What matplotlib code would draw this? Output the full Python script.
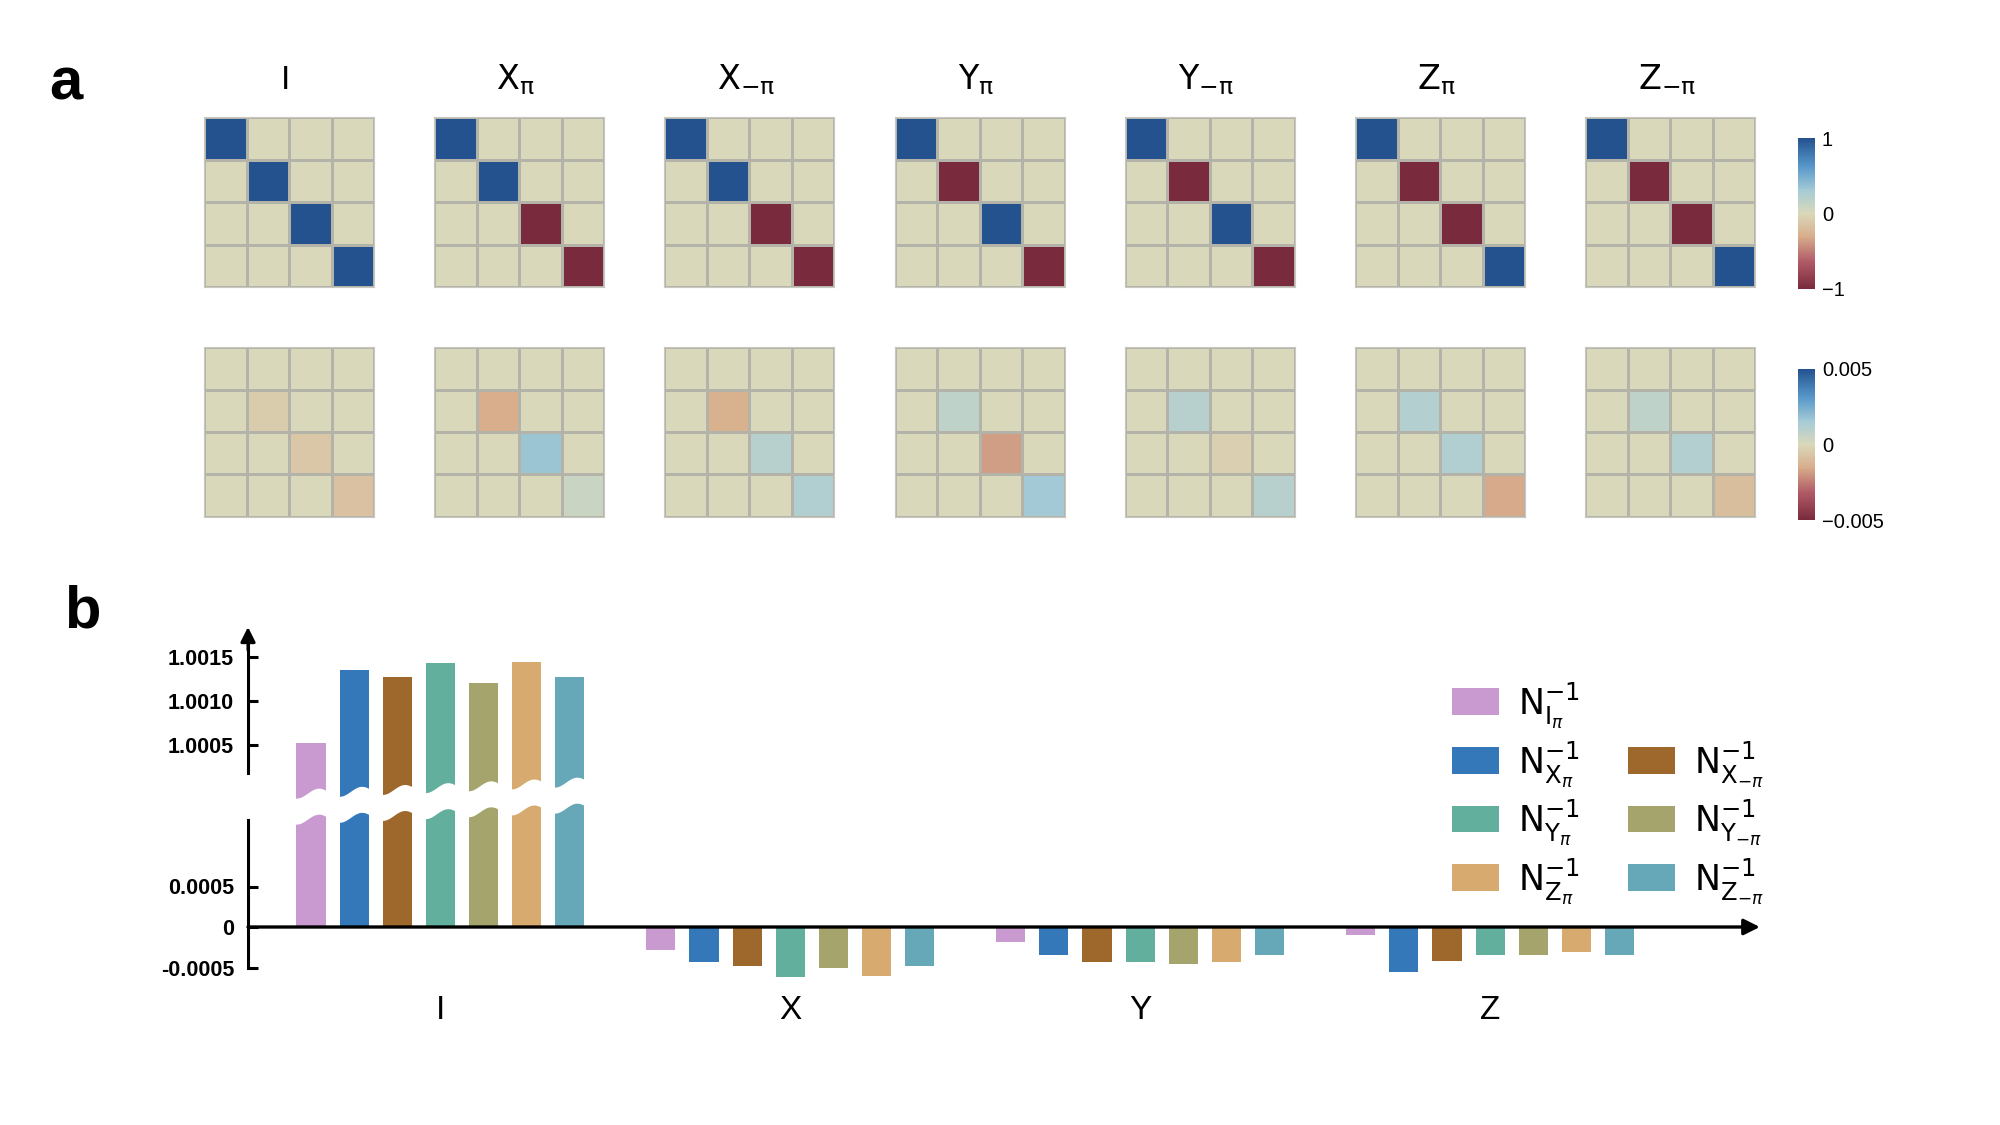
import numpy as np
import matplotlib
matplotlib.use("Agg")
import matplotlib.pyplot as plt
from matplotlib.colors import LinearSegmentedColormap, Normalize
from matplotlib.cm import ScalarMappable
from matplotlib.patches import Rectangle
import matplotlib.transforms as mtransforms

plt.rcParams['font.family'] = ['Liberation Sans', 'DejaVu Sans']
plt.rcParams['mathtext.fontset'] = 'dejavusans'

# ---------------- data ----------------
gate_titles = ['I', r'$\mathrm{X}_{\mathrm{\pi}}$', r'$\mathrm{X}_{-\mathrm{\pi}}$',
               r'$\mathrm{Y}_{\mathrm{\pi}}$', r'$\mathrm{Y}_{-\mathrm{\pi}}$',
               r'$\mathrm{Z}_{\mathrm{\pi}}$', r'$\mathrm{Z}_{-\mathrm{\pi}}$']
ideal_diag = [[1, 1, 1, 1],
              [1, 1, -1, -1],
              [1, 1, -1, -1],
              [1, -1, 1, -1],
              [1, -1, 1, -1],
              [1, -1, -1, 1],
              [1, -1, -1, 1]]
dev_diag = [[0, -0.0004, -0.0006, -0.0008],
            [0, -0.0015, 0.0017, 0.0005],
            [0, -0.0014, 0.0010, 0.0012],
            [0, 0.0008, -0.0018, 0.0016],
            [0, 0.0010, -0.0003, 0.0010],
            [0, 0.0011, 0.0012, -0.0016],
            [0, 0.0008, 0.0011, -0.0009]]

groups = ['I', 'X', 'Y', 'Z']
series_labels = [r'$\mathrm{N}_{\mathrm{I}_{\pi}}^{-1}$',
                 r'$\mathrm{N}_{\mathrm{X}_{\pi}}^{-1}$',
                 r'$\mathrm{N}_{\mathrm{X}_{-\pi}}^{-1}$',
                 r'$\mathrm{N}_{\mathrm{Y}_{\pi}}^{-1}$',
                 r'$\mathrm{N}_{\mathrm{Y}_{-\pi}}^{-1}$',
                 r'$\mathrm{N}_{\mathrm{Z}_{\pi}}^{-1}$',
                 r'$\mathrm{N}_{\mathrm{Z}_{-\pi}}^{-1}$']
series_colors = ['#C89AD0', '#3478BA', '#9E682C', '#62AF9E', '#A4A46C', '#D7AB70', '#67A8B8']
vals_I = [1.00052, 1.00135, 1.00127, 1.00143, 1.00121, 1.00144, 1.00127]
vals_X = [-0.00028, -0.00043, -0.00048, -0.00062, -0.00051, -0.00061, -0.00048]
vals_Y = [-0.00019, -0.00035, -0.00043, -0.00043, -0.00046, -0.00043, -0.00035]
vals_Z = [-0.00010, -0.00055, -0.00042, -0.00035, -0.00035, -0.00031, -0.00035]
upper_ticks = [1.0005, 1.0010, 1.0015]
upper_ticklabels = ['1.0005', '1.0010', '1.0015']
lower_ticks = [-0.0005, 0, 0.0005]
lower_ticklabels = ['-0.0005', '0', '0.0005']

# ---------------- figure ----------------
W, H = 2000, 1125
fig = plt.figure(figsize=(20, 11.25), dpi=100)


def add_ax(l, t, w, h):
    return fig.add_axes([l / W, 1 - (t + h) / H, w / W, h / H])


cmap = LinearSegmentedColormap.from_list('div', [
    (0.00, '#7A2A3D'), (0.18, '#B05A66'), (0.35, '#D8AE8C'), (0.50, '#DAD8BA'),
    (0.65, '#A6CCD6'), (0.82, '#5595C8'), (1.00, '#24528F')])
grid_c = '#B4B3AA'

for row, (diags, vmax) in enumerate([(ideal_diag, 1.0), (dev_diag, 0.005)]):
    top = 117 if row == 0 else 347
    norm = Normalize(-vmax, vmax)
    for i in range(7):
        ax = add_ax(204 + i * 230.2, top, 170, 170)
        M = np.diag(diags[i])
        ax.pcolormesh(M, cmap=cmap, norm=norm, edgecolors=grid_c, linewidth=0.8)
        ax.set_xlim(0, 4)
        ax.set_ylim(4, 0)
        ax.set_xticks([])
        ax.set_yticks([])
        for s in ax.spines.values():
            s.set_color('#C9C8C0')
            s.set_linewidth(0.8)
        if row == 0:
            ax.text(0.48, 1.165, gate_titles[i], transform=ax.transAxes,
                    ha='center', va='baseline', fontsize=24)
    cax = add_ax(1798, 138 if row == 0 else 369, 17, 151)
    cb = fig.colorbar(ScalarMappable(norm=norm, cmap=cmap), cax=cax)
    cb.outline.set_visible(False)
    cb.set_ticks([-vmax, 0, vmax])
    if row == 0:
        cb.set_ticklabels(['\u22121', '0', '1'])
    else:
        cb.set_ticklabels(['\u22120.005', '0', '0.005'])
    cax.tick_params(length=0, pad=5, labelsize=14.5)

fig.text(66 / W, 1 - 99 / H, 'a', fontsize=43, fontweight='bold', ha='center', va='baseline')
fig.text(82 / W, 1 - 628 / H, 'b', fontsize=43, fontweight='bold', ha='center', va='baseline')

# ---------------- panel b ----------------
vals = np.array([vals_I, vals_X, vals_Y, vals_Z])  # groups x series
gx = np.arange(len(groups))
spacing = 0.123
bw = 0.083
offsets = (np.arange(7) - 3) * spacing
xl, xr = -0.549, 3.80


def v_low(p):   # pixel row -> lower-axis value
    return (927 - p) * 0.001 / 81


def v_up(p):    # pixel row -> upper-axis value
    return 1.0015 - (p - 657) * 0.001 / 88


ax_up = add_ax(248, 625, 1522, 205)
ax_low = add_ax(248, 775, 1522, 225)
ax_up.set_zorder(2)
ax_low.set_zorder(3)
for ax in (ax_up, ax_low):
    ax.patch.set_visible(False)
    ax.set_xlim(xl, xr)
    for s in ('top', 'right', 'bottom'):
        ax.spines[s].set_visible(False)
    ax.spines['left'].set_linewidth(2.2)
    ax.set_xticks([])
    ax.tick_params(axis='y', direction='in', length=7, width=2.2, pad=10,
                   labelsize=15.5)

ax_up.set_ylim(v_up(830), v_up(625))
ax_low.set_ylim(v_low(1000), v_low(775))

handles = []
for k in range(7):
    b = ax_up.bar(gx + offsets[k], vals[:, k], width=bw, color=series_colors[k],
                  label=series_labels[k])
    ax_low.bar(gx + offsets[k], vals[:, k], width=bw, color=series_colors[k])
    handles.append(b)

ax_up.set_yticks(upper_ticks)
ax_up.set_yticklabels(upper_ticklabels, fontweight='bold', fontsize=15.5)
ax_low.set_yticks(lower_ticks)
ax_low.set_yticklabels(lower_ticklabels, fontweight='bold', fontsize=15.5)
ax_up.spines['left'].set_bounds(v_up(773), v_up(640))
ax_low.spines['left'].set_bounds(-0.0005, v_low(820))

# y arrow head
ax_up.annotate('', xy=(xl, v_up(627)), xytext=(xl, v_up(650)),
               arrowprops=dict(arrowstyle='-|>', color='k', lw=2.2,
                               mutation_scale=22, shrinkA=0, shrinkB=0),
               annotation_clip=False)
# x axis with arrow
ax_low.annotate('', xy=(3.771, 0), xytext=(xl, 0),
                arrowprops=dict(arrowstyle='-|>', color='k', lw=2.4,
                                mutation_scale=24, shrinkA=0, shrinkB=0),
                annotation_clip=False)

# wavy break band across the I group
xs = np.linspace(offsets[0] - bw / 2 - 0.01, offsets[-1] + bw / 2 + 0.01, 600)
x0 = offsets[0]
base = 806 - 11 * (xs - x0) / (offsets[-1] - x0)
center = base - 4.5 * np.cos(2 * np.pi * (xs - x0 - bw / 4) / spacing)
ax_low.fill_between(xs, v_low(center - 13), v_low(center + 13), color='white',
                    zorder=10, lw=0)

# group labels
trans = mtransforms.blended_transform_factory(ax_low.transData, ax_low.transAxes)
for g, name in zip(gx, groups):
    ax_low.text(g, -0.048, name, transform=trans, ha='center', va='center',
                fontsize=24)

# legend
blank = Rectangle((0, 0), 1, 1, alpha=0)
leg_handles = [handles[0], handles[1], handles[3], handles[5], blank,
               handles[2], handles[4], handles[6]]
leg_labels = [series_labels[0], series_labels[1], series_labels[3], series_labels[5],
              series_labels[1], series_labels[2], series_labels[4], series_labels[6]]
leg = fig.legend(leg_handles, leg_labels, loc='upper left',
                 bbox_to_anchor=(1452 / W, 1 - 680 / H), ncol=2, frameon=False,
                 fontsize=25, handlelength=1.35, handleheight=0.8,
                 handletextpad=0.55, columnspacing=1.4, labelspacing=0.25,
                 borderpad=0, borderaxespad=0)
leg.get_texts()[4].set_alpha(0)

fig.savefig('out.png', dpi=100)
